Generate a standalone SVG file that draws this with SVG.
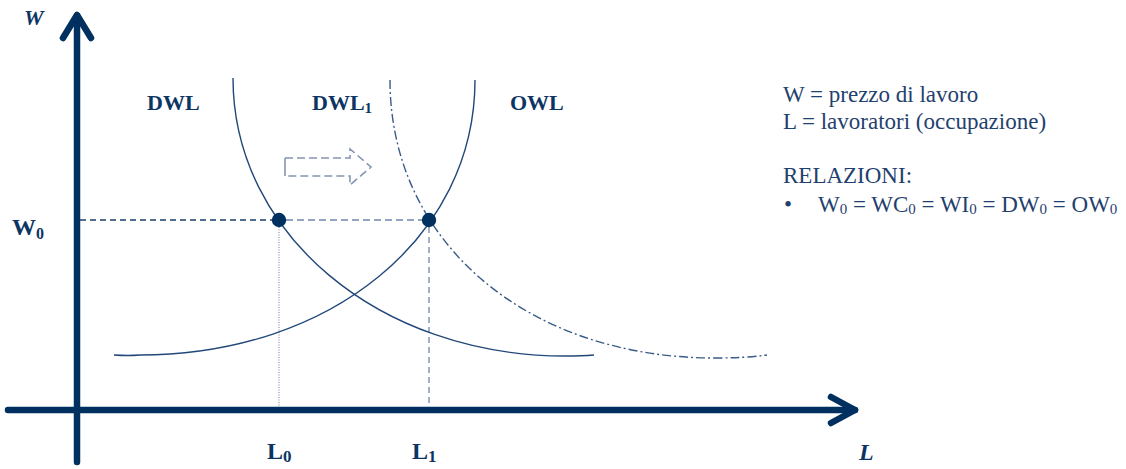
<svg xmlns="http://www.w3.org/2000/svg" width="1126" height="469" viewBox="0 0 1126 469">
<style>
.axis{stroke:#00305f;stroke-width:6.5;fill:none;stroke-linecap:round;stroke-linejoin:round}
.curve{stroke:#22487a;stroke-width:1.4;fill:none}
.dashdot{stroke:#3a5c88;stroke-width:1.4;fill:none;stroke-dasharray:9 3 2 3}
.lbl{font-family:"Liberation Serif","Times New Roman",serif;font-weight:bold;fill:#0c3563}
.ital{font-family:"Liberation Serif","Times New Roman",serif;font-weight:bold;font-style:italic;fill:#0c3563}
.txt{font-family:"Liberation Serif","Times New Roman",serif;font-size:23px;fill:#1f416e}
.pt{fill:#00305f}
.shift{fill:none;stroke:#8596b1;stroke-width:1.6}
</style>
<rect width="1126" height="469" fill="#ffffff"/>
<g id="axes">
<line class="axis" x1="77" y1="16" x2="77" y2="462"/>
<polyline class="axis" points="63,38 77,15 91,38"/>
<line class="axis" x1="8" y1="410" x2="855" y2="410"/>
<polyline class="axis" points="831,397 855,410 831,423"/>
</g>
<g id="connectors">
<line x1="80" y1="220" x2="273" y2="220" stroke="#1d3f6c" stroke-width="1.4" stroke-dasharray="6 4"/>
<line x1="286" y1="220" x2="422" y2="220" stroke="#6f87aa" stroke-width="1.6" stroke-dasharray="7 4"/>
<line x1="279" y1="227" x2="279" y2="407" stroke="#7f94b3" stroke-width="1.2" stroke-dasharray="1 1.5"/>
<line x1="429" y1="227" x2="429" y2="407" stroke="#8a9dba" stroke-width="1.6" stroke-dasharray="6 4"/>
</g>
<g id="shift-arrow">
<line class="shift" x1="285" y1="158" x2="285" y2="176"/>
<polyline class="shift" stroke-dasharray="8 4" points="285,158 350,158 350,149 371,167 350,185 350,176 285,176"/>
</g>
<g id="DWL">
<path class="curve" d="M233 78 C233 233.7 379 356 565 356 Q582 356 594 355"/>
</g>
<g id="OWL">
<path class="curve" d="M114 355 Q128 356 140 355 C331 355 475 236.7 475 80"/>
</g>
<g id="DWL1">
<path class="dashdot" d="M390 80 C390 241 526 358 715 358 Q745 358 767 355"/>
</g>
<g id="points">
<circle class="pt" cx="279" cy="220" r="7.2"/>
<circle class="pt" cx="429" cy="220" r="7.2"/>
</g>
<g id="labels">
<text class="ital" x="24" y="25" font-size="22">W</text>
<text class="ital" x="859" y="460" font-size="24">L</text>
<text class="lbl" x="12" y="235" font-size="24">W<tspan font-size="16" dy="4">0</tspan></text>
<text class="lbl" x="267" y="459" font-size="24">L<tspan font-size="17" dy="3">0</tspan></text>
<text class="lbl" x="412" y="459" font-size="24">L<tspan font-size="17" dy="3">1</tspan></text>
<text class="lbl" x="147" y="110" font-size="22">DWL</text>
<text class="lbl" x="312" y="110" font-size="22">DWL<tspan font-size="15" dy="3">1</tspan></text>
<text class="lbl" x="510" y="110" font-size="22">OWL</text>
</g>
<g id="legend">
<text class="txt" x="783" y="102">W = prezzo di lavoro</text>
<text class="txt" x="783" y="129">L = lavoratori (occupazione)</text>
<text class="txt" x="783" y="183">RELAZIONI:</text>
<text class="txt" x="784" y="212">•</text>
<text class="txt" x="818" y="212">W<tspan font-size="15" dy="2">0</tspan><tspan dy="-2"> = WC</tspan><tspan font-size="15" dy="2">0</tspan><tspan dy="-2"> = WI</tspan><tspan font-size="15" dy="2">0</tspan><tspan dy="-2"> = DW</tspan><tspan font-size="15" dy="2">0</tspan><tspan dy="-2"> = OW</tspan><tspan font-size="15" dy="2">0</tspan></text>
</g>
</svg>
